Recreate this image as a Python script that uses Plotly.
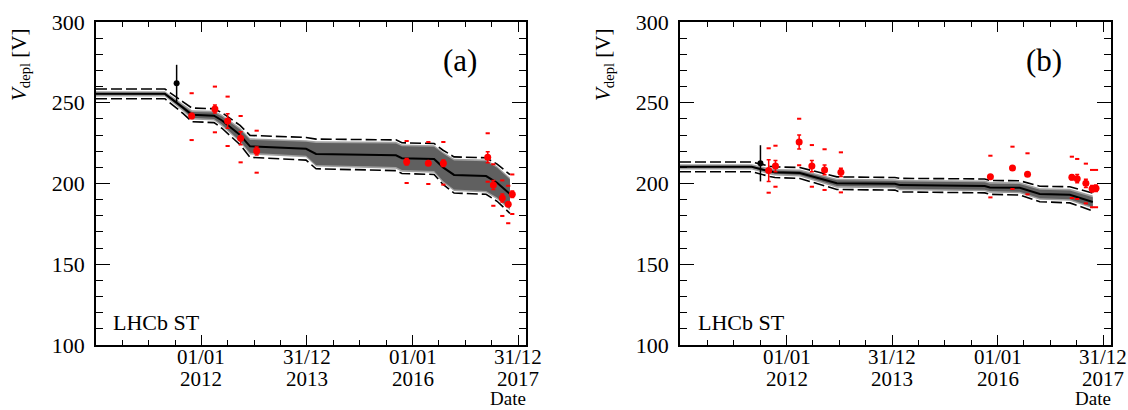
import plotly.graph_objects as go
import pandas as pd
import numpy as np

# ---------------- Panel (a) ----------------
a_model_date = ["2010-01-01", "2011-04-23", "2011-08-26", "2011-10-27", "2012-03-28", "2012-05-22",
                "2012-09-24", "2012-12-02", "2013-12-25", "2014-03-04", "2015-09-08", "2015-10-19",
                "2016-05-29", "2016-07-30", "2016-10-14", "2017-05-24", "2017-08-08", "2017-11-05"]
a_model_v = [255.5, 255.5, 247.0, 242.5, 242.0, 239.0, 230.0, 223.0, 221.5, 218.3, 217.5, 215.7,
             215.2, 210.0, 205.3, 204.6, 200.5, 193.5]
a_band_hw = [0.6, 0.6, 1.2, 1.8, 2.0, 2.5, 3.5, 4.0, 4.3, 6.8, 7.3, 7.4, 7.5, 8.5, 9.0, 9.2, 9.2, 9.0]
a_dash_hw = [3.0, 3.0, 3.6, 4.2, 4.3, 4.8, 6.0, 6.8, 7.0, 9.2, 9.5, 9.5, 9.6, 10.6, 11.2, 11.3, 11.5, 12.0]

a_ref_date = ["2011-07-13"]
a_ref_v = [262.0]
a_ref_err = [11.5]

a_date = ["2011-10-25", "2012-04-03", "2012-06-30", "2012-09-28", "2013-01-17", "2015-11-21",
          "2016-04-19", "2016-08-01", "2017-06-04", "2017-07-13", "2017-09-13", "2017-10-24",
          "2017-11-21"]
a_v = [241.8, 246.1, 238.7, 228.0, 220.1, 213.5, 212.5, 212.5, 216.2, 199.1, 191.0, 187.1, 193.4]
a_stat = [1.5, 2.5, 4.5, 4.0, 2.5, 2.0, 1.0, 2.0, 3.4, 2.8, 2.5, 1.0, 2.0]
a_sys_hi = [255.9, 260.0, 253.8, 241.8, 232.7, 226.3, 225.7, 225.7, 231.1, 211.9, 201.9, 198.6, 205.6]
a_sys_lo = [226.9, 231.7, 223.2, 213.1, 206.7, 200.3, 199.7, 199.3, 201.1, 186.2, 179.9, 175.4, 181.1]

# ---------------- Panel (b) ----------------
b_model_date = ["2009-12-24", "2011-05-05", "2011-09-07", "2011-10-12", "2012-04-02", "2012-08-18",
                "2012-12-14", "2014-01-20", "2014-02-23", "2015-10-04", "2015-11-08", "2016-06-02",
                "2016-10-19", "2017-05-15", "2017-10-21"]
b_model_v = [210.3, 210.3, 207.5, 207.0, 206.5, 203.0, 200.2, 199.8, 199.0, 198.5, 197.6, 197.3,
             193.5, 193.0, 188.5]
b_band_hw = [0.6, 0.6, 0.9, 1.0, 1.2, 1.5, 1.8, 1.8, 2.2, 2.3, 2.3, 2.4, 2.6, 2.7, 3.0]
b_dash_hw = [3.0, 3.0, 3.2, 3.3, 3.4, 3.6, 3.9, 3.9, 4.2, 4.3, 4.3, 4.4, 4.8, 5.0, 5.5]

b_ref_date = ["2011-07-04"]
b_ref_v = [212.5]
b_ref_err = [11.2]

b_date = ["2011-08-30", "2011-10-16", "2012-03-28", "2012-06-24", "2012-09-20", "2013-01-11",
          "2015-11-12", "2016-04-13", "2016-07-26", "2017-05-29", "2017-07-05", "2017-09-03",
          "2017-10-16", "2017-11-12"]
b_v = [208.0, 210.8, 225.7, 210.8, 208.4, 206.9, 204.2, 209.6, 205.7, 203.8, 203.0, 200.1, 196.8, 197.0]
b_stat = [6.7, 3.5, 4.3, 3.5, 3.0, 2.5, 1.0, 1.0, 1.0, 1.5, 2.5, 2.5, 2.0, 2.0]
b_sys_hi = [221.8, 223.4, 240.1, 223.8, 221.2, 219.3, 217.2, 222.8, 218.7, 216.6, 215.2, 212.3, 208.4, 208.4]
b_sys_lo = [194.3, 198.0, 211.3, 198.0, 196.0, 194.5, 191.4, 196.6, 193.3, 191.0, 190.4, 187.7, 185.3, 185.3]

# ---------------- Axis labels ----------------
major_dates = ["2012-01-01", "2013-12-31", "2016-01-01", "2017-12-31"]
major_daymonth = ["01/01", "31/12", "01/01", "31/12"]
major_year = ["2012", "2013", "2016", "2017"]
y_ticks = [100, 150, 200, 250, 300]
y_text = ["100", "150", "200", "250", "300"]
panel_labels = ["(a)", "(b)"]
exp_label = "LHCb ST"
x_title = "Date"
y_title = "<i>V</i><sub>depl</sub> [V]"

FONT = "Liberation Serif, Times New Roman, Times, Nimbus Roman, DejaVu Serif, serif"
W, H = 1128, 410

# minor ticks: 3 between each pair of majors (and back to axis start)
edges = pd.to_datetime(["2010-01-01"] + major_dates)
minor_vals = []
for i in range(len(edges) - 1):
    for k in range(1, 4):
        minor_vals.append(edges[i] + (edges[i + 1] - edges[i]) * k / 4)

fig = go.Figure()


def add_panel(xa, ya, mdate, mv, bhw, dhw, rdate, rv, rerr, date, v, stat, shi, slo):
    mv = np.array(mv)
    bhw = np.array(bhw)
    dhw = np.array(dhw)
    md = list(mdate)
    fig.add_trace(go.Scatter(x=md + md[::-1], y=list(mv + bhw + 1.0) + list((mv - bhw - 1.0)[::-1]),
                             fill="toself", fillcolor="#a0a0a0", line=dict(width=0), mode="lines",
                             xaxis=xa, yaxis=ya, hoverinfo="skip"))
    fig.add_trace(go.Scatter(x=md + md[::-1], y=list(mv + bhw) + list((mv - bhw)[::-1]),
                             fill="toself", fillcolor="#606060", line=dict(width=0), mode="lines",
                             xaxis=xa, yaxis=ya, hoverinfo="skip"))
    fig.add_trace(go.Scatter(x=md, y=mv, mode="lines", line=dict(color="black", width=2),
                             xaxis=xa, yaxis=ya))
    for sgn in (1, -1):
        fig.add_trace(go.Scatter(x=md, y=mv + sgn * dhw, mode="lines",
                                 line=dict(color="black", width=1.6, dash="11px,4px"),
                                 xaxis=xa, yaxis=ya))
    fig.add_trace(go.Scatter(x=rdate, y=rv, mode="markers",
                             marker=dict(color="black", size=6),
                             error_y=dict(type="data", array=rerr, color="black", thickness=1.5, width=0),
                             xaxis=xa, yaxis=ya))
    fig.add_trace(go.Scatter(x=list(date) + list(date), y=list(shi) + list(slo), mode="markers",
                             marker=dict(symbol="line-ew", size=3, line=dict(color="red", width=2)),
                             xaxis=xa, yaxis=ya))
    fig.add_trace(go.Scatter(x=date, y=v, mode="markers",
                             marker=dict(color="red", size=7),
                             error_y=dict(type="data", array=stat, color="red", thickness=1.5, width=2),
                             xaxis=xa, yaxis=ya))


add_panel("x", "y", a_model_date, a_model_v, a_band_hw, a_dash_hw, a_ref_date, a_ref_v, a_ref_err,
          a_date, a_v, a_stat, a_sys_hi, a_sys_lo)
add_panel("x2", "y2", b_model_date, b_model_v, b_band_hw, b_dash_hw, b_ref_date, b_ref_v, b_ref_err,
          b_date, b_v, b_stat, b_sys_hi, b_sys_lo)

tickfont = dict(family=FONT, size=22, color="black")


def xcfg(domain, rng, anchor):
    return dict(domain=domain, anchor=anchor, type="date", range=rng, showgrid=False, zeroline=False,
                automargin=False, showticklabels=False,
                showline=True, linecolor="black", linewidth=1.5, mirror="ticks",
                ticks="inside", ticklen=10, tickwidth=1.2, tickcolor="black",
                tickmode="array", tickvals=major_dates, ticktext=major_daymonth,
                minor=dict(tickmode="array", tickvals=minor_vals, ticks="inside", ticklen=5,
                           tickwidth=1.2, tickcolor="black", showgrid=False))


def ycfg(domain, anchor):
    return dict(domain=domain, anchor=anchor, range=[100, 300], showgrid=False, zeroline=False,
                automargin=False,
                showline=True, linecolor="black", linewidth=1.5, mirror="ticks",
                ticks="inside", ticklen=14, tickwidth=1.2, tickcolor="black",
                tickmode="array", tickvals=y_ticks, ticktext=y_text, tickfont=tickfont,
                ticklabelstandoff=5,
                minor=dict(dtick=10, tick0=100, ticks="inside", ticklen=7, tickwidth=1.2,
                           tickcolor="black", showgrid=False))


ydom = [(H - 345) / H, (H - 22) / H]
fig.update_layout(
    width=W, height=H, margin=dict(l=0, r=0, t=0, b=0, pad=0, autoexpand=False),
    paper_bgcolor="white", plot_bgcolor="white", showlegend=False,
    font=dict(family=FONT, color="black"),
    xaxis=xcfg([96 / W, 526 / W], ["2010-01-01", "2018-02-24"], "y"),
    yaxis=ycfg(ydom, "x"),
    xaxis2=xcfg([680 / W, 1111 / W], ["2009-12-24", "2018-02-24"], "y2"),
    yaxis2=ycfg(ydom, "x2"),
)

annots = []
specs = [
    dict(xref="x", panel=panel_labels[0], px=460, lhx=111, datex=527, ytx=20),
    dict(xref="x2", panel=panel_labels[1], px=1044, lhx=696, datex=1112, ytx=604),
]
for s in specs:
    annots.append(dict(x=s["px"] / W, y=(H - 60) / H, xref="paper", yref="paper", text=s["panel"],
                       showarrow=False, xanchor="center", yanchor="middle",
                       font=dict(family=FONT, size=31, color="black")))
    annots.append(dict(x=s["lhx"] / W, y=(H - 322) / H, xref="paper", yref="paper", text=exp_label,
                       showarrow=False, xanchor="left", yanchor="middle",
                       font=dict(family=FONT, size=22, color="black")))
    annots.append(dict(x=s["datex"] / W, y=0, xref="paper", yref="paper", text=x_title,
                       showarrow=False, xanchor="right", yanchor="bottom", borderpad=0,
                       font=dict(family=FONT, size=19, color="black")))
    annots.append(dict(x=s["ytx"] / W, y=(H - 65) / H, xref="paper", yref="paper", text=y_title,
                       showarrow=False, xanchor="center", yanchor="middle", textangle=-90,
                       font=dict(family=FONT, size=21, color="black")))
    for d, dm, yr in zip(major_dates, major_daymonth, major_year):
        annots.append(dict(x=d, y=(H - 357) / H, xref=s["xref"], yref="paper", text=dm,
                           showarrow=False, xanchor="center", yanchor="middle", borderpad=0,
                           font=dict(family=FONT, size=21, color="black")))
        annots.append(dict(x=d, y=(H - 379) / H, xref=s["xref"], yref="paper", text=yr,
                           showarrow=False, xanchor="center", yanchor="middle", borderpad=0,
                           font=dict(family=FONT, size=21, color="black")))
fig.update_layout(annotations=annots)

fig.write_html("out.html")
